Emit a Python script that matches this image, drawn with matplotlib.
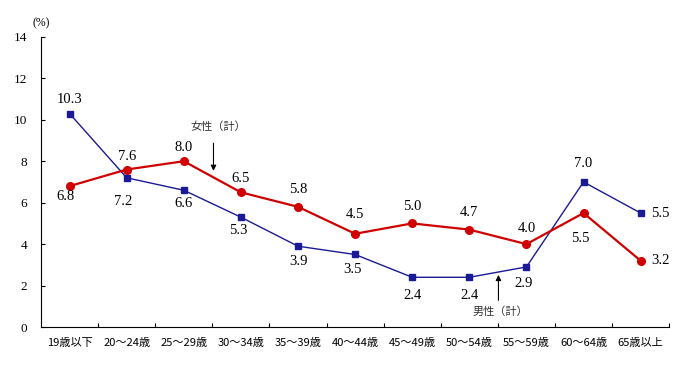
import matplotlib
matplotlib.use('Agg')
import matplotlib.pyplot as plt

plt.rcParams['font.family'] = ['Noto Sans CJK JP', 'DejaVu Sans']

categories = ['19歳以下', '20～24歳', '25～29歳', '30～34歳', '35～39歳', '40～44歳',
              '45～49歳', '50～54歳', '55～59歳', '60～64歳', '65歳以上']
male = [10.3, 7.2, 6.6, 5.3, 3.9, 3.5, 2.4, 2.4, 2.9, 7.0, 5.5]
female = [6.8, 7.6, 8.0, 6.5, 5.8, 4.5, 5.0, 4.7, 4.0, 5.5, 3.2]
# label offsets from the point, in pixels (dx, dy up)
male_off = [(0, 14), (-4, -24), (0, -13), (-3, -13), (0, -15), (-3, -15),
            (0, -18), (0, -18), (-3, -17), (0, 18), (20, 0)]
female_off = [(-4, -10), (0, 13), (0, 14), (0, 14), (0, 17), (0, 19),
              (0, 17), (0, 17), (0, 16), (-3, -25), (20, 0)]

blue = '#1a1a96'
red = '#d00000'

fig = plt.figure(figsize=(7, 3.65), dpi=100)
ax = fig.add_axes([0.0586, 0.104, 0.8974, 0.795])
x = range(len(categories))

ax.plot(x, male, color=blue, lw=1.0, marker='s', ms=5, zorder=3)
ax.plot(x, female, color=red, lw=1.6, marker='o', ms=5.5, zorder=3)

px = 72 / 100.0
for vals, offs in ((male, male_off), (female, female_off)):
    for i, v in enumerate(vals):
        dx, dy = offs[i]
        ax.annotate('%.1f' % v, (i, v), xytext=(dx * px, dy * px), textcoords='offset points',
                    ha='center', va='center', fontsize=10.5, family='Liberation Serif')

ax.annotate('', xy=(2.52, 7.4), xytext=(2.52, 9.0),
            arrowprops=dict(arrowstyle='-|>', color='black', lw=0.8, mutation_scale=8))
ax.text(2.6, 9.65, '女性（計）', ha='center', va='center', fontsize=8, color='#333333')
ax.annotate('', xy=(7.51, 2.65), xytext=(7.51, 1.15),
            arrowprops=dict(arrowstyle='-|>', color='black', lw=0.8, mutation_scale=8))
ax.text(7.55, 0.72, '男性（計）', ha='center', va='center', fontsize=8, color='#333333')

ax.set_xlim(-0.5, len(categories) - 0.5)
ax.set_ylim(0, 14)
ax.set_yticks(range(0, 15, 2))
ax.set_xticks([i + 0.5 for i in range(len(categories))])
ax.set_xticklabels([])
ax.set_xticks(list(x), minor=True)
ax.set_xticklabels(categories, minor=True, fontsize=8)
ax.tick_params(axis='x', which='minor', length=0, pad=8)
ax.tick_params(axis='x', which='major', direction='in', length=3)
ax.tick_params(axis='y', direction='in', length=3, labelsize=9.5, pad=10)
for lab in ax.get_yticklabels():
    lab.set_family('Liberation Serif')
ax.spines['top'].set_visible(False)
ax.spines['right'].set_visible(False)
ax.text(0.0, 1.025, '(%)', transform=ax.transAxes, fontsize=8.5, ha='center', va='bottom',
        family='Liberation Serif')

fig.savefig('out.png', dpi=100)
